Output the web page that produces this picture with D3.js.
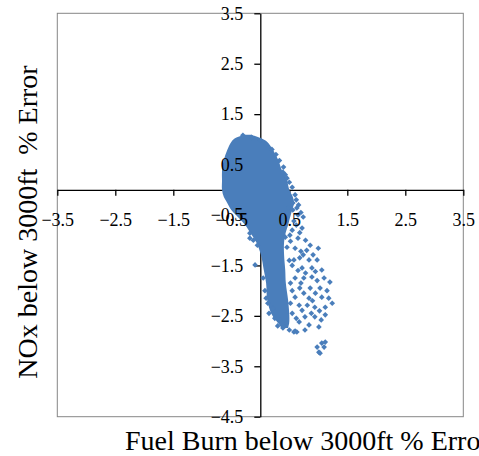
<!DOCTYPE html>
<html><head><meta charset="utf-8">
<script src="https://cdn.jsdelivr.net/npm/d3@7"></script>
<style>
html,body{margin:0;padding:0;background:#fff;}
svg{display:block;}
text{font-family:"Liberation Serif","Times New Roman",serif;fill:#000;}
</style></head>
<body>
<script>
// ---- data ----
const xTickValues = [-3.5, -2.5, -1.5, -0.5, 0.5, 1.5, 2.5, 3.5];
const yTickValues = [3.5, 2.5, 1.5, 0.5, -0.5, -1.5, -2.5, -3.5, -4.5];
const xTitle = "Fuel Burn below 3000ft % Error";
const yTitle = "NOx below 3000ft  % Error";

// dense core of the scatter: for each NOx level, the Fuel Burn extent that is solid
const coreY    = [1.09, 1.03, 0.95, 0.79, 0.59, 0.39, 0.19, 0.00, -0.14, -0.26, -0.40, -0.56, -0.70, -0.84, -1.04, -1.29, -1.59, -1.85, -2.19, -2.48, -2.62, -2.74];
const coreXMin = [-0.26, -0.42, -0.50, -0.57, -0.63, -0.66, -0.66, -0.66, -0.63, -0.57, -0.50, -0.37, -0.26, -0.18, -0.07, 0.01, 0.06, 0.10, 0.12, 0.20, 0.29, 0.37];
const coreXMax = [-0.16, -0.01, 0.12, 0.22, 0.31, 0.37, 0.46, 0.50, 0.56, 0.58, 0.55, 0.51, 0.48, 0.44, 0.41, 0.41, 0.43, 0.44, 0.48, 0.50, 0.50, 0.48];

// individual scattered points outside the dense core
const fuelErr = [0.39, 0.46, 0.56, 0.63, 0.48, 0.56, 0.65, 0.74, 0.72, 0.65, 0.86, 1.00, 0.91, 0.74, 0.60, 0.43, 0.51, 0.46,
  -0.18, -0.18, -0.09, 0.58, 0.68, 0.84, 0.98, 0.89, 0.72, 1.06, 0.60, 0.75, 0.89, 1.20, 0.68, 0.86, 1.03,
  0.60, 0.84, 1.06, 1.18, 0.67, 0.81, 0.94, 1.12, 1.24, 0.72, 1.12, 0.94, 0.77, 0.67, 0.84, 1.01, 0.58, 0.63, 0.77,
  0.13, 0.22, 0.34, 0.39, 0.60, 0.98, 1.06, 1.12, 1.10, 1.01, 1.03,
  0.40, 0.43, 0.50, 0.55, 0.60, 0.62, 0.66, 0.70, 0.58, 0.62, 0.55, 0.68, 0.52, 0.78, 0.80, 0.70,
  0.50, 0.55, 0.65, 0.78, 0.95, 0.52, 0.70, 0.98, 1.10, 0.55, 0.75, 0.95, 1.15, 0.52, 0.90, 1.02, 0.88, 0.55, 0.62, 1.05, 0.45, 0.50,
  0.05, 0.08, 0.10, 0.15, 0.25, 0.30, -0.05, -0.12,
  -0.30, -0.15, 0.00, 0.10, 0.20, 0.27, 0.33];
const noxErr  = [0.35, 0.23, -0.26, -0.36, -0.36, -0.40, -0.50, -0.54, -0.76, -0.96, -1.10, -1.16, -1.29, -1.29, -1.16, -0.94, -0.90, -1.14,
  -0.86, -0.96, -1.49, -1.39, -1.35, -1.39, -1.39, -1.55, -1.55, -1.59, -1.75, -1.75, -1.73, -1.83, -1.95, -1.95, -1.95,
  -2.13, -2.15, -2.13, -2.15, -2.29, -2.29, -2.33, -2.33, -2.25, -2.39, -2.48, -2.52, -2.52, -2.62, -2.68, -2.72, -2.82, -2.82, -2.78,
  -2.25, -2.35, -2.58, -2.74, -2.80, -3.12, -3.04, -3.02, -3.12, -3.22, -3.24,
  0.45, 0.30, 0.15, 0.05, -0.10, -0.20, -0.30, -0.45, -0.62, -0.70, -0.80, -0.85, -1.02, -1.00, -1.20, -1.22,
  -1.40, -1.50, -1.60, -1.65, -1.62, -1.85, -1.85, -1.80, -1.75, -2.00, -2.05, -2.05, -2.00, -2.25, -2.20, -2.40, -2.45, -2.45, -2.55, -2.58, -2.65, -2.78,
  -1.75, -2.00, -2.15, -2.45, -2.55, -2.70, -1.10, -1.00,
  1.08, 1.04, 0.98, 0.90, 0.80, 0.70, 0.58];

// ---- drawing ----
const W = 479, H = 456;
const blue = "#4a7ebb";
const svg = d3.select("body").append("svg").attr("width", W).attr("height", H);
svg.append("rect").attr("width", W).attr("height", H).attr("fill", "#fff");

const x = d3.scaleLinear().domain([-3.5, 3.5]).range([57.3, 463.3]);
const y = d3.scaleLinear().domain([-4.5, 3.5]).range([416.7, 13.3]);

// plot area border
svg.append("rect").attr("x", x(-3.5)).attr("y", y(3.5))
  .attr("width", x(3.5) - x(-3.5)).attr("height", y(-4.5) - y(3.5))
  .attr("fill", "none").attr("stroke", "#868686").attr("stroke-width", 1);

const xAxis = d3.axisBottom(x).tickValues(xTickValues).tickSizeInner(6).tickSizeOuter(0).tickPadding(17).tickFormat(d3.format(".1f"));
const yAxis = d3.axisLeft(y).tickValues(yTickValues).tickSizeInner(6).tickSizeOuter(0).tickPadding(11).tickFormat(d3.format(".1f"));

function styleAxis(g) {
  g.select(".domain").attr("stroke", "#000").attr("stroke-width", 1.3);
  g.selectAll(".tick line").attr("stroke", "#000").attr("stroke-width", 1.3);
  g.selectAll("text").attr("font-size", 18).attr("font-family", "Liberation Serif, Times New Roman, serif").attr("fill", "#000");
}
// axis lines (below the data)
const gxL = svg.append("g").attr("transform", `translate(0,${y(0)})`).call(xAxis).call(styleAxis);
gxL.selectAll("text").remove();
const gyL = svg.append("g").attr("transform", `translate(${x(0)},0)`).call(yAxis).call(styleAxis);
gyL.selectAll("text").remove();

// data: dense core
const core = coreY.map((v, i) => ({y: v, x0: coreXMin[i], x1: coreXMax[i]}));
svg.append("path").datum(core)
  .attr("fill", blue)
  .attr("d", d3.area().curve(d3.curveCatmullRom).y(d => y(d.y)).x0(d => x(d.x0)).x1(d => x(d.x1)));

// scattered points: diamonds
const pts = fuelErr.map((v, i) => ({x: v, y: noxErr[i]}));
const diamond = d3.symbol().type(d3.symbolSquare).size(16);
svg.append("g").selectAll("path").data(pts).join("path")
  .attr("d", diamond)
  .attr("fill", blue)
  .attr("transform", d => `translate(${x(d.x)},${y(d.y)}) rotate(45)`);

// tick labels above the data
const gxT = svg.append("g").attr("transform", `translate(0,${y(0)})`).call(xAxis).call(styleAxis);
gxT.selectAll("line").remove(); gxT.select(".domain").remove();
const gyT = svg.append("g").attr("transform", `translate(${x(0)},0)`).call(yAxis).call(styleAxis);
gyT.selectAll("line").remove(); gyT.select(".domain").remove();

// axis titles
svg.append("text").attr("x", 125).attr("y", 450)
  .attr("font-size", 28).text(xTitle);
svg.append("text")
  .attr("transform", `translate(37,${222}) rotate(-90)`)
  .attr("text-anchor", "middle").attr("font-size", 28)
  .style("white-space", "pre").text(yTitle);
</script>
</body></html>
